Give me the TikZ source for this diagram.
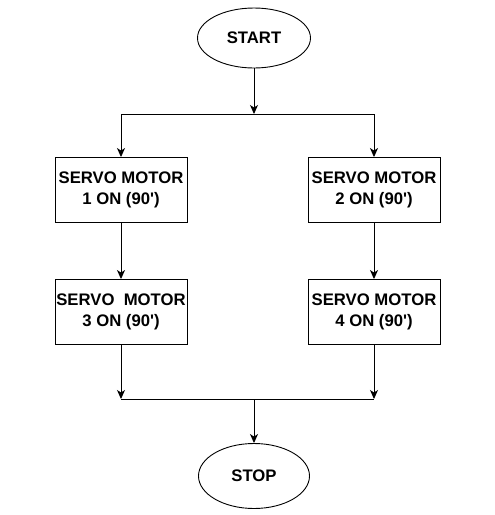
\documentclass[tikz,border=0pt]{standalone}
\usepackage{fontspec}
\setmainfont{Liberation Sans}[Ligatures=TeXOff]
\usetikzlibrary{shapes.geometric,arrows.meta}
\begin{document}
\begin{tikzpicture}[x=1pt,y=-1pt,
  every node/.style={font=\fontsize{16.7}{20.5}\selectfont\bfseries, align=center, inner sep=0pt},
  term/.style={ellipse, draw, line width=0.9pt, minimum width=113pt, minimum height=60pt},
  proc/.style={rectangle, draw, line width=0.9pt, minimum width=132pt, minimum height=65pt},
  conn/.style={line width=0.9pt, -{Stealth[length=9pt,width=8pt,inset=2.5pt]}},
  ln/.style={line width=0.9pt}]
\useasboundingbox (0,0) rectangle (495,515);
\node[term] (start) at (254,38) {START};
\node[proc] (p1) at (121,190) {SERVO MOTOR\\1 ON (90')};
\node[proc] (p2) at (374,190) {SERVO MOTOR\\2 ON (90')};
\node[proc] (p3) at (121,312) {SERVO\ \ MOTOR\\3 ON (90')};
\node[proc] (p4) at (374,312) {SERVO MOTOR\\4 ON (90')};
\node[term, minimum width=111pt, minimum height=65pt] (stop) at (254,476) {STOP};
\coordinate (s1) at (254,114);
\coordinate (sl) at (121,114);
\coordinate (sr) at (374,114);
\coordinate (j1) at (254,399);
\coordinate (jl) at (121,399);
\coordinate (jr) at (374,399);
\draw[conn] (start) -- (s1);
\draw[ln] (sl) -- (sr);
\draw[conn] (sl) -- (p1);
\draw[conn] (sr) -- (p2);
\draw[conn] (p1) -- (p3);
\draw[conn] (p2) -- (p4);
\draw[conn] (p3) -- (jl);
\draw[conn] (p4) -- (jr);
\draw[ln] (jl) -- (jr);
\draw[conn] (j1) -- (stop);
\end{tikzpicture}
\end{document}
